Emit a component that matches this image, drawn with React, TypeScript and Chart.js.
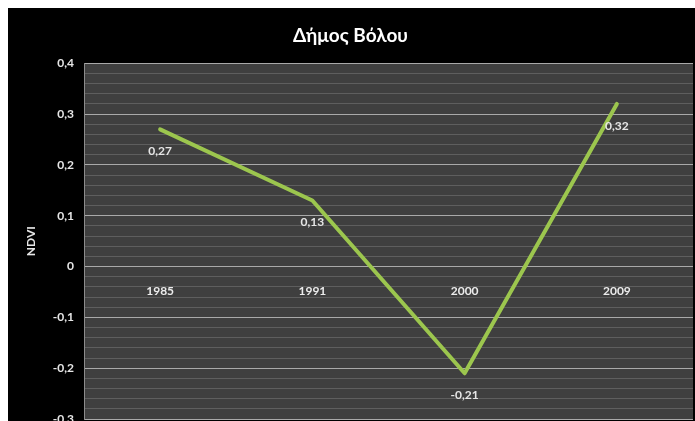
import React, { useEffect, useRef } from "react";
import { Chart, registerables } from "chart.js";

Chart.register(...registerables);

const chartTitle = "Δήμος Βόλου";
const yAxisTitle = "NDVI";
const categories = ["1985", "1991", "2000", "2009"];
const ndviValues = [0.27, 0.13, -0.21, 0.32];
const yMin = -0.3;
const yMax = 0.4;
const minorStep = 0.02;

const FONT = "Lato, 'Open Sans', 'Noto Sans', sans-serif";

const isMajor = (v: number) => Math.abs(v * 10 - Math.round(v * 10)) < 1e-6;
const fmtTick = (v: number) => {
  if (Math.abs(v) < 1e-9) return "0";
  return (Math.round(v * 10) / 10).toString().replace(".", ",");
};
const fmtValue = (v: number) => v.toFixed(2).replace(".", ",");

const backgroundPlugin = {
  id: "bgPlugin",
  beforeDraw(chart: any) {
    const { ctx, chartArea } = chart;
    ctx.save();
    ctx.fillStyle = "#000000";
    ctx.fillRect(0, 0, chart.width, chart.height);
    ctx.fillStyle = "#3f3f3f";
    ctx.fillRect(chartArea.left, chartArea.top, chartArea.right - chartArea.left, chartArea.bottom - chartArea.top);
    ctx.restore();
  },
};

const labelPlugin = {
  id: "valueLabels",
  afterDatasetsDraw(chart: any) {
    const { ctx } = chart;
    const meta = chart.getDatasetMeta(0);
    const data = chart.data.datasets[0].data as number[];
    ctx.save();
    ctx.font = `bold 12px ${FONT}`;
    ctx.fillStyle = "#e6e6e6";
    ctx.textAlign = "center";
    ctx.textBaseline = "middle";
    meta.data.forEach((pt: any, i: number) => {
      ctx.fillText(fmtValue(data[i]), pt.x, pt.y + 22);
    });
    ctx.restore();
  },
};

export default function App() {
  const canvasRef = useRef<HTMLCanvasElement | null>(null);

  useEffect(() => {
    if (!canvasRef.current) return;
    const chart = new Chart(canvasRef.current, {
      type: "line",
      data: {
        labels: categories,
        datasets: [
          {
            label: yAxisTitle,
            data: ndviValues,
            borderColor: "#9cc64e",
            borderWidth: 4,
            borderJoinStyle: "round",
            borderCapStyle: "round",
            pointRadius: 0,
            tension: 0,
            fill: false,
          },
        ],
      },
      options: {
        animation: false,
        responsive: false,
        layout: { padding: { top: 0, left: 0, right: 2, bottom: 29 } },
        plugins: {
          legend: { display: false },
          tooltip: { enabled: false },
          title: {
            display: true,
            text: chartTitle,
            color: "#ffffff",
            font: { family: FONT, size: 19, weight: "bold" },
            padding: { top: 16, bottom: 16.5 },
          },
        },
        scales: {
          x: {
            type: "category",
            position: { y: 0 } as any,
            offset: true,
            grid: { display: false, drawTicks: false },
            border: { display: false },
            ticks: {
              color: "#ececec",
              font: { family: FONT, size: 12, weight: "bold" },
              padding: 17,
              maxRotation: 0,
              autoSkip: false,
            },
          },
          y: {
            type: "linear",
            min: yMin,
            max: yMax,
            afterFit(scale: any) {
              scale.width = 76;
            },
            ticks: {
              stepSize: minorStep,
              autoSkip: false,
              color: "#e6e6e6",
              font: { family: FONT, size: 12, weight: "bold" },
              padding: 10,
              callback: (v: any) => (isMajor(Number(v)) ? fmtTick(Number(v)) : ""),
            },
            grid: {
              drawTicks: false,
              color: (ctx: any) => (isMajor(ctx.tick.value) ? "#a9a9a9" : "#5e5e5e"),
              lineWidth: 1,
            },
            border: { display: true, color: "#8c8c8c", width: 1 },
            title: {
              display: true,
              text: yAxisTitle,
              color: "#e6e6e6",
              font: { family: FONT, size: 12, weight: "bold" },
              padding: { top: 16, bottom: 0 },
            },
          },
        },
      },
      plugins: [backgroundPlugin, labelPlugin],
    } as any);
    return () => chart.destroy();
  }, []);

  return (
    <div
      style={{
        position: "fixed",
        left: 8,
        top: 8,
        width: 687,
        height: 413,
        overflow: "hidden",
        background: "#000",
      }}
    >
      <canvas ref={canvasRef} width={687} height={440} style={{ display: "block" }} />
    </div>
  );
}
